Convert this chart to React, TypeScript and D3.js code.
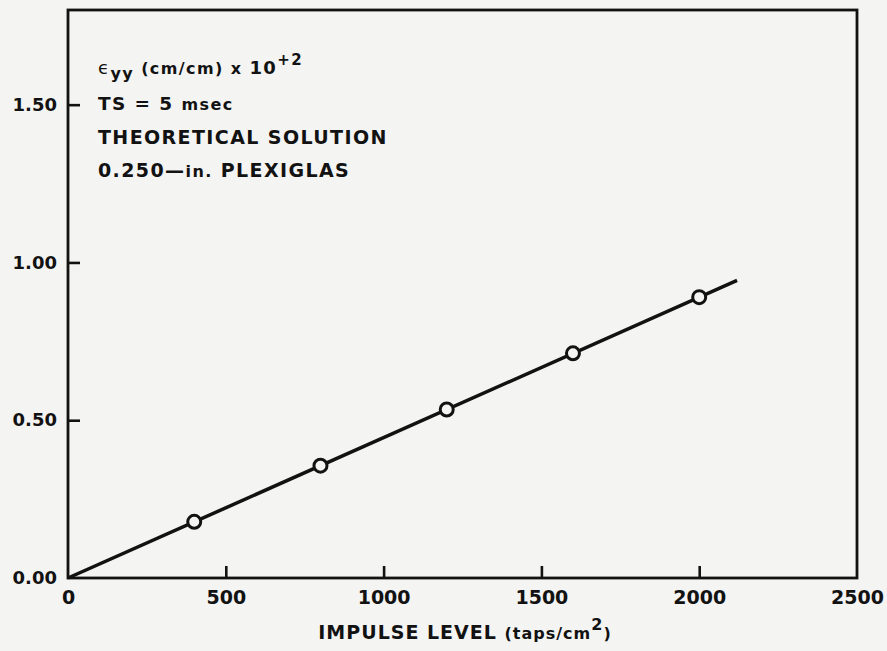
import React, { useRef, useEffect } from "react";
import * as d3 from "d3";

const impulse = [400, 800, 1200, 1600, 2000];
const strain = [0.178, 0.356, 0.534, 0.712, 0.89];
// theoretical line, from origin to its end
const lineX = [0, 2120];
const lineY = [0, 0.943];
const xTicks = [0, 500, 1000, 1500, 2000, 2500];
const yTicks = [0, 0.5, 1.0, 1.5];

const W = 887;
const H = 651;
const margin = { top: 10, right: 30, bottom: 73, left: 68 };
const FONT = "'DejaVu Sans', Verdana, sans-serif";
const INK = "#121212";

const App = () => {
  const svgRef = useRef<SVGSVGElement>(null);

  useEffect(() => {
    const svg = d3.select(svgRef.current);
    svg.selectAll("*").remove();

    const iw = W - margin.left - margin.right;
    const ih = H - margin.top - margin.bottom;

    const x = d3.scaleLinear().domain([0, 2500]).range([0, iw]);
    const y = d3.scaleLinear().domain([0, 1.8]).range([ih, 0]);

    const g = svg
      .append("g")
      .attr("transform", `translate(${margin.left},${margin.top})`);

    // frame
    g.append("rect")
      .attr("x", 0)
      .attr("y", 0)
      .attr("width", iw)
      .attr("height", ih)
      .attr("fill", "none")
      .attr("stroke", INK)
      .attr("stroke-width", 2.8);

    const xAxis = d3
      .axisBottom(x)
      .tickValues(xTicks)
      .tickFormat(d3.format("d"))
      .tickSize(-12)
      .tickPadding(13);
    const gx = g.append("g").attr("transform", `translate(0,${ih})`).call(xAxis);

    const yAxis = d3
      .axisLeft(y)
      .tickValues(yTicks)
      .tickFormat(d3.format(".2f"))
      .tickSize(-12)
      .tickPadding(11);
    const gy = g.append("g").call(yAxis);

    [gx, gy].forEach((a) => {
      a.select(".domain").remove();
      a.selectAll("line").attr("stroke", INK).attr("stroke-width", 2.6);
      a.selectAll("text")
        .attr("fill", INK)
        .style("font-family", FONT)
        .style("font-weight", "bold");
    });
    gx.selectAll("text").style("font-size", "19px");
    gy.selectAll("text").style("font-size", "18px");
    // no tick marks at the frame corners
    gx.selectAll(".tick line").filter((d: any) => d === 0 || d === 2500).remove();
    gy.selectAll(".tick line").filter((d: any) => d === 0).remove();

    // theoretical solution line
    const ln = d3
      .line<number>()
      .x((d) => x(d))
      .y((d, i) => y(lineY[i]));
    g.append("path")
      .attr("d", ln(lineX))
      .attr("fill", "none")
      .attr("stroke", INK)
      .attr("stroke-width", 3.5);

    g.selectAll("circle.pt")
      .data(impulse)
      .join("circle")
      .attr("class", "pt")
      .attr("cx", (d) => x(d))
      .attr("cy", (d, i) => y(strain[i]))
      .attr("r", 6.5)
      .attr("fill", "#f4f4f2")
      .attr("stroke", INK)
      .attr("stroke-width", 3);

    // x axis title
    const xt = svg
      .append("text")
      .attr("x", 465)
      .attr("y", 639)
      .attr("text-anchor", "middle")
      .attr("fill", INK)
      .style("font-family", FONT)
      .style("font-size", "19px")
      .style("font-weight", "bold")
      .style("letter-spacing", "1px");
    xt.append("tspan").text("IMPULSE LEVEL ");
    xt.append("tspan").style("font-size", "16px").text("(taps/cm");
    xt.append("tspan").attr("dy", -9).style("font-size", "16px").text("2");
    xt.append("tspan").attr("dy", 9).style("font-size", "16px").text(")");

    // annotation block
    const note = svg
      .append("g")
      .attr("fill", INK)
      .style("font-family", FONT)
      .style("font-weight", "bold")
      .style("letter-spacing", "1.4px");

    const t1 = note.append("text").attr("x", 98).attr("y", 74).style("font-size", "18px");
    t1.append("tspan").style("font-weight", "normal").text("ϵ");
    t1.append("tspan").attr("dy", 5).style("font-size", "16px").text("yy");
    t1.append("tspan").attr("dy", -5).style("font-size", "16px").text(" (cm/cm) x ");
    t1.append("tspan").text("10");
    t1.append("tspan").attr("dy", -9).style("font-size", "15px").text("+2");

    const t2 = note.append("text").attr("x", 98).attr("y", 110).style("font-size", "18.5px");
    t2.append("tspan").text("TS = 5 ");
    t2.append("tspan").style("font-size", "16px").text("msec");

    note.append("text").attr("x", 98).attr("y", 144).style("font-size", "19px").text("THEORETICAL SOLUTION");
    const t4 = note.append("text").attr("x", 98).attr("y", 177).style("font-size", "19px");
    t4.append("tspan").text("0.250—");
    t4.append("tspan").style("font-size", "16px").text("in.");
    t4.append("tspan").text(" PLEXIGLAS");
  }, []);

  return (
    <svg
      ref={svgRef}
      width={W}
      height={H}
      style={{ position: "absolute", left: 0, top: 0, background: "#f4f4f2" }}
    />
  );
};

export default App;
